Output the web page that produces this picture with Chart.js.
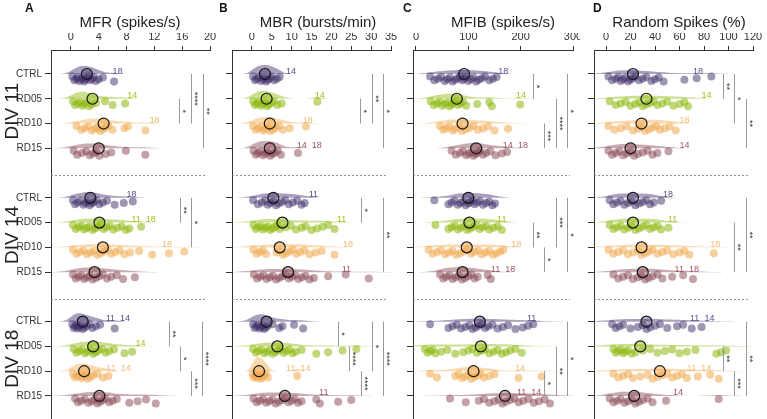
<!DOCTYPE html>
<html>
<head>
<meta charset="utf-8">
<script src="https://cdn.jsdelivr.net/npm/chart.js@4.4.1/dist/chart.umd.min.js"></script>
<style>
  html, body { margin: 0; padding: 0; background: #fff; }
  #wrap { position: relative; width: 767px; height: 419px; overflow: hidden; }
  canvas { position: absolute; top: 0; }
</style>
</head>
<body>
<div id="wrap">
  <canvas id="cA" width="220" height="419" style="left:0px"></canvas>
  <canvas id="cB" width="180" height="419" style="left:220px"></canvas>
  <canvas id="cC" width="185" height="419" style="left:395px"></canvas>
  <canvas id="cD" width="187" height="419" style="left:580px"></canvas>
</div>
<script>
// ---- data ----
const conditions = ['CTRL', 'RD05', 'RD10', 'RD15'];
const divs = ['DIV 11', 'DIV 14', 'DIV 18'];

// MFR (spikes/s), one list per condition
const mfr11 = [
  [0.2, 0.5, 0.8, 1.0, 1.2, 1.5, 1.7, 1.9, 2.1, 2.3, 2.5, 2.8, 3.0, 3.3, 3.6, 4.0, 4.6, 6.2],
  [0.3, 0.6, 1.0, 1.3, 1.6, 1.9, 2.2, 2.6, 3.0, 3.6, 4.9, 6.0, 7.8],
  [0.8, 1.5, 2.0, 2.5, 3.0, 3.5, 3.8, 4.2, 4.6, 5.0, 5.4, 6.0, 7.7, 8.2, 10.7],
  [0.4, 0.9, 1.6, 2.2, 2.7, 3.2, 3.6, 4.1, 5.0, 5.8, 7.9, 10.7]
];
const mfr14 = [
  [0.3, 0.6, 1.0, 1.4, 1.8, 2.1, 2.4, 2.7, 3.0, 3.3, 3.7, 4.1, 4.6, 5.2, 6.3, 7.6, 8.9],
  [0.3, 0.7, 1.1, 1.5, 1.9, 2.3, 2.7, 3.1, 3.5, 3.9, 4.3, 4.7, 5.1, 5.6, 6.1, 6.7, 7.3, 7.9, 8.4, 10.1],
  [0.3, 0.8, 1.3, 1.8, 2.3, 2.8, 3.3, 3.8, 4.3, 4.8, 5.3, 5.8, 6.4, 7.0, 7.7, 8.5, 9.8, 11.7, 14.1, 16.3],
  [0.3, 0.7, 1.1, 1.5, 1.9, 2.3, 2.7, 3.1, 3.6, 4.1, 4.6, 5.2, 5.8, 6.6, 7.5, 9.2]
];
const mfr18 = [
  [0.2, 0.4, 0.6, 0.8, 1.0, 1.2, 1.4, 1.7, 2.0, 2.3, 2.7, 3.1, 3.6, 4.2, 6.3],
  [0.4, 0.8, 1.2, 1.6, 2.0, 2.4, 2.8, 3.2, 3.6, 4.0, 4.5, 5.0, 5.5, 6.2, 7.7, 8.8],
  [0.3, 0.6, 0.9, 1.2, 1.5, 1.8, 2.1, 2.4, 2.8, 3.2, 3.8, 4.6, 5.4],
  [0.6, 1.0, 1.5, 2.0, 2.5, 3.0, 3.4, 3.8, 4.2, 4.6, 5.0, 5.5, 6.0, 6.6, 8.4, 9.6, 10.8, 12.2]
];
const mfrMeans = [[2.3, 3.1, 4.7, 4.0], [2.8, 4.1, 4.6, 3.4], [1.7, 3.2, 1.9, 4.1]];
const mfrTicks = [0, 4, 8, 12, 16, 20];

// MBR (bursts/min)
const mbr11 = [
  [0.3, 0.8, 1.3, 1.8, 2.3, 2.8, 3.2, 3.6, 4.0, 4.5, 5.0, 5.6, 6.3, 7.0],
  [0.3, 0.8, 1.3, 1.8, 2.3, 2.8, 3.3, 3.8, 4.3, 4.9, 5.6, 6.4, 7.5, 16.5],
  [0.3, 1.0, 1.7, 2.3, 2.9, 3.5, 4.1, 4.7, 5.3, 6.0, 6.8, 7.8, 9.5, 13.6],
  [0.4, 1.0, 1.6, 2.2, 2.8, 3.4, 4.0, 4.6, 5.2, 5.8, 6.5, 7.3, 11.6]
];
const mbr14 = [
  [0.3, 1.5, 2.5, 3.3, 4.0, 4.7, 5.4, 6.1, 6.8, 7.6, 8.4, 9.3, 10.3, 11.4, 12.5, 13.3],
  [0.4, 1.0, 1.6, 2.2, 2.8, 3.4, 4.0, 4.6, 5.2, 5.8, 6.4, 7.0, 8.5, 9.8, 11.1, 12.5, 13.5, 15.0, 16.4, 17.8, 19.2, 20.8],
  [0.4, 1.2, 2.0, 2.8, 3.6, 6.2, 7.0, 7.8, 8.6, 9.4, 10.3, 11.2, 12.2, 13.2, 14.5, 16.0, 17.6, 20.8],
  [0.5, 1.3, 2.1, 2.9, 3.7, 4.5, 5.3, 6.1, 6.9, 7.7, 8.5, 9.3, 10.1, 10.9, 11.7, 12.6, 13.5, 14.5, 15.6, 19.2, 23.6, 29.4]
];
const mbr18 = [
  [0.3, 0.7, 1.1, 1.5, 1.9, 2.3, 2.7, 3.1, 3.5, 4.0, 5.2, 6.9, 7.7, 10.6, 12.9],
  [0.3, 1.0, 1.7, 2.4, 3.1, 3.8, 4.5, 5.2, 5.9, 6.6, 7.3, 8.0, 8.7, 9.4, 10.2, 11.0, 12.5, 16.2, 19.2, 22.8, 26.3],
  [0.2, 0.5, 0.8, 1.1, 1.4, 1.7, 2.0, 2.3, 2.6, 3.0, 3.5, 4.0, 11.4],
  [0.4, 1.2, 2.0, 2.8, 3.6, 4.4, 5.2, 6.0, 6.8, 7.6, 8.4, 9.2, 10.0, 10.8, 11.6, 12.5, 16.2, 17.1, 21.7, 25.0]
];
const mbrMeans = [[3.3, 3.7, 4.5, 4.5], [5.4, 7.7, 7.0, 9.1], [3.7, 6.4, 1.8, 8.3]];
const mbrTicks = [0, 5, 10, 15, 20, 25, 30, 35];

// MFIB (spikes/s)
const mfib11 = [
  [27, 35, 42, 48, 55, 60, 65, 70, 75, 80, 84, 88, 92, 96, 100, 105, 110, 115, 120, 126, 132, 140, 147, 154],
  [28, 34, 40, 45, 50, 55, 60, 64, 68, 72, 76, 80, 85, 90, 96, 117, 140, 145, 199],
  [46, 52, 58, 64, 70, 76, 82, 88, 95, 102, 110, 118, 128, 138, 150, 176],
  [68, 76, 84, 90, 96, 101, 106, 110, 114, 118, 122, 128, 134, 142, 152, 164, 174]
];
const mfib14 = [
  [35, 62, 68, 74, 80, 85, 90, 95, 100, 104, 108, 112, 117, 122, 128, 134, 140, 146, 151],
  [37, 62, 68, 74, 80, 86, 92, 98, 104, 110, 116, 122, 128, 134, 140, 148, 156, 164],
  [24, 32, 40, 48, 56, 63, 70, 77, 84, 91, 98, 105, 112, 119, 126, 133, 140, 147, 154, 161, 167],
  [46, 52, 58, 64, 70, 76, 82, 88, 94, 100, 106, 112, 118, 137, 143]
];
const mfib18 = [
  [27, 62, 70, 78, 86, 94, 102, 108, 114, 120, 126, 132, 138, 146, 156, 166, 176, 190, 204, 214, 224],
  [17, 22, 27, 32, 37, 48, 60, 75, 90, 100, 108, 116, 124, 132, 140, 148, 156, 164, 172, 180, 190, 202],
  [27, 40, 75, 82, 88, 94, 100, 106, 112, 118, 124, 130, 140, 150, 196, 240],
  [65, 95, 120, 130, 140, 150, 158, 165, 172, 180, 188, 196, 205, 215, 225, 235, 246, 256]
];
const mfibMeans = [[92, 78, 89, 115], [100, 102, 97, 89], [122, 124, 110, 170]];
const mfibTicks = [0, 100, 200, 300];

// Random spikes (%)
const rnd11 = [
  [2, 5, 8, 10, 12, 14, 16, 18, 20, 22, 24, 27, 30, 33, 37, 40, 43, 47, 64, 74, 86],
  [3, 8, 12, 16, 20, 24, 27, 30, 33, 36, 39, 42, 46, 50, 55, 60, 64, 67],
  [2, 7, 12, 17, 22, 26, 29, 32, 35, 38, 41, 44, 48, 52, 57],
  [2, 5, 8, 11, 14, 17, 20, 23, 26, 30, 34, 38, 42, 51]
];
const rnd14 = [
  [3, 6, 9, 12, 15, 18, 21, 24, 27, 30, 33, 36, 39, 45],
  [3, 6, 9, 12, 15, 18, 21, 24, 27, 30, 33, 36, 39, 42, 45, 51],
  [2, 6, 10, 14, 18, 22, 26, 29, 32, 35, 38, 42, 46, 50, 55, 60, 64, 68, 88],
  [6, 10, 14, 18, 22, 26, 29, 32, 35, 38, 42, 46, 54, 63, 71]
];
const rnd18 = [
  [5, 8, 11, 14, 20, 26, 30, 33, 36, 40, 44, 50, 58, 63, 70, 78],
  [6, 8, 10, 12, 14, 16, 18, 21, 24, 30, 36, 42, 48, 54, 60, 66, 73, 90, 94, 98],
  [6, 10, 14, 18, 22, 28, 34, 38, 42, 46, 50, 54, 58, 62, 66, 75, 85, 92],
  [3, 6, 9, 12, 15, 18, 21, 24, 27, 30, 34, 38, 49, 92]
];
const rndMeans = [[22, 33, 29, 20], [22, 22, 29, 30], [33, 28, 44, 23]];
const rndTicks = [0, 20, 40, 60, 80, 100, 120];

// DIV comparison notes next to each group
const mfrNotes = [['18', '14', '18', ''], ['18', '11  18', '18', ''], ['11  14', '14', '11  14', '']];
const mbrNotes = [['14', '14', '18', '14  18'], ['11', '11', '18', '11'], ['', '', '11  14', '11']];
const mfibNotes = [['18', '14', '', '14  18'], ['', '11', '18', '11  18'], ['11', '', '14', '11  14']];
const rndNotes = [['18', '14', '18', '14'], ['18', '11', '18', '11  18'], ['11  14', '', '11  14', '14']];

// significance: [div, from, to, stars]
const mfrSig = [[0, 1, 2, '*'], [0, 0, 2, '****'], [0, 0, 3, '**'], [1, 0, 1, '**'], [1, 0, 2, '*'],
  [2, 0, 1, '**'], [2, 1, 2, '*'], [2, 2, 3, '***'], [2, 0, 3, '****']];
const mbrSig = [[0, 1, 2, '*'], [0, 0, 2, '**'], [0, 0, 3, '*'], [1, 0, 1, '*'], [1, 0, 3, '**'],
  [2, 0, 1, '*'], [2, 1, 2, '****'], [2, 2, 3, '****'], [2, 0, 2, '*'], [2, 0, 3, '****']];
const mfibSig = [[0, 0, 1, '*'], [0, 2, 3, '***'], [0, 1, 3, '****'], [0, 0, 3, '*'],
  [1, 1, 2, '**'], [1, 2, 3, '*'], [1, 0, 2, '***'], [1, 0, 3, '*'],
  [2, 2, 3, '*'], [2, 1, 3, '**'], [2, 0, 3, '*']];
const rndSig = [[0, 0, 1, '**'], [0, 0, 2, '*'], [0, 1, 3, '**'], [1, 1, 3, '**'], [1, 0, 3, '**'],
  [2, 1, 2, '**'], [2, 2, 3, '***'], [2, 0, 3, '**']];

// ---- annotation layout (x in axis units) ----
const mfrNoteX = [[6.0, 8.1, 11.3, 0], [8.0, 8.7, 13.1, 0], [5.0, 9.3, 5.1, 0]];
const mbrNoteX = [[8.6, 15.8, 12.8, 11.3], [14.3, 21.4, 22.9, 22.6], [0, 0, 8.6, 16.9]];
const mfibNoteX = [[157, 191, 0, 166], [0, 155, 182, 143], [212, 0, 189, 193]];
const rndNoteX = [[71, 78, 60, 60], [46.5, 50.6, 85, 56], [68.6, 0, 66, 54.7]];
const mfrSigX = [15.6, 17.3, 19.0, 15.7, 17.3, 14.1, 15.7, 17.3, 18.9];
const mbrSigX = [27.2, 30.2, 33.0, 27.4, 33.0, 21.6, 24.4, 27.4, 30.2, 33.0];
const mfibSigX = [224, 245, 267, 289, 224, 245, 267, 289, 245, 267, 289];
const rndSigX = [95.5, 104.5, 114.3, 104.5, 114.3, 95.5, 104.5, 114.3];

// ---- styling ----
Chart.defaults.font.family = '"Liberation Sans", Arial, sans-serif';
const FONT = '"Liberation Sans", Arial, sans-serif';
const pointCol = ['rgba(63,45,106,0.5)', 'rgba(141,184,12,0.55)', 'rgba(240,170,80,0.55)', 'rgba(134,68,80,0.5)'];
const violinCol = ['rgba(63,45,106,0.45)', 'rgba(141,184,12,0.45)', 'rgba(240,170,80,0.45)', 'rgba(134,68,80,0.45)'];
const meanCol = ['rgba(63,45,106,0.4)', 'rgba(141,184,12,0.45)', 'rgba(240,170,80,0.5)', 'rgba(134,68,80,0.4)'];
const noteCol = ['#5b4c88', '#a3c41c', '#f2bb72', '#9c5761'];
const rowTicks = [0, 1, 2, 3, 5, 6, 7, 8, 10, 11, 12, 13];
const Y_MIN = -0.969, Y_MAX = 13.93, ROW_PX = 24.77;
const VIOLIN_AREA = 230;

const panels = [
  { id: 'cA', letter: 'A', title: 'MFR (spikes/s)', left: 0, areaLeft: 51, padRight: 10, min: -2.86, max: 20,
    ticks: mfrTicks, groups: [mfr11, mfr14, mfr18], means: mfrMeans, notes: mfrNotes, noteX: mfrNoteX,
    sig: mfrSig, sigX: mfrSigX, titleX: 130, letterX: 25, labels: true },
  { id: 'cB', letter: 'B', title: 'MBR (bursts/min)', left: 220, areaLeft: 12, padRight: 9, min: -5.0, max: 35,
    ticks: mbrTicks, groups: [mbr11, mbr14, mbr18], means: mbrMeans, notes: mbrNotes, noteX: mbrNoteX,
    sig: mbrSig, sigX: mbrSigX, titleX: 318, letterX: 219, labels: false },
  { id: 'cC', letter: 'C', title: 'MFIB (spikes/s)', left: 395, areaLeft: 18, padRight: 7, min: -5.7, max: 300,
    ticks: mfibTicks, groups: [mfib11, mfib14, mfib18], means: mfibMeans, notes: mfibNotes, noteX: mfibNoteX,
    sig: mfibSig, sigX: mfibSigX, titleX: 503, letterX: 403, labels: false },
  { id: 'cD', letter: 'D', title: 'Random Spikes (%)', left: 580, areaLeft: 14, padRight: 14, min: -9.8, max: 120,
    ticks: rndTicks, groups: [rnd11, rnd14, rnd18], means: rndMeans, notes: rndNotes, noteX: rndNoteX,
    sig: rndSig, sigX: rndSigX, titleX: 679, letterX: 593, labels: false }
];

function kde(vals) {
  const n = vals.length;
  const mean = vals.reduce((a, b) => a + b, 0) / n;
  const sd = Math.sqrt(vals.reduce((a, b) => a + (b - mean) ** 2, 0) / (n - 1));
  const s = [...vals].sort((a, b) => a - b);
  const q = p => { const h = (n - 1) * p, i = Math.floor(h); return s[i] + (h - i) * ((s[i + 1] ?? s[i]) - s[i]); };
  const iqr = q(0.75) - q(0.25);
  const bw = 0.9 * Math.min(sd, iqr / 1.34 || sd) * Math.pow(n, -0.2);
  const lo = s[0] - 2.5 * bw, hi = s[n - 1] + 2.5 * bw;
  const out = [];
  for (let k = 0; k <= 60; k++) {
    const x = lo + (hi - lo) * k / 60;
    let d = 0;
    for (const v of vals) { const u = (x - v) / bw; d += Math.exp(-0.5 * u * u); }
    out.push({ x, d: d / (n * bw * Math.sqrt(2 * Math.PI)) });
  }
  return out;
}

function buildDatasets(p, pxPerUnit) {
  const sets = [];
  p.groups.forEach((g, d) => {
    g.forEach((vals, c) => {
      const row = d * 5 + c;
      sets.push({
        type: 'line', showLine: true, order: 3,
        data: kde(vals).map(k => ({ x: k.x, y: row - VIOLIN_AREA * k.d / pxPerUnit / ROW_PX })),
        borderWidth: 0, pointRadius: 0, tension: 0.3,
        backgroundColor: violinCol[c], fill: { value: row }
      });
      sets.push({
        order: 2,
        data: vals.map((v, i) => ({ x: v, y: row + 0.1 + 0.2 * ((i * 7) % 10) / 9 })),
        pointRadius: 4, borderWidth: 0, backgroundColor: pointCol[c]
      });
      sets.push({
        order: 1,
        data: [{ x: p.means[d][c], y: row }],
        pointRadius: 5.5, borderWidth: 1.2, borderColor: '#151515', backgroundColor: meanCol[c]
      });
    });
  });
  return sets;
}

function decor(p) {
  return {
    id: 'decor' + p.letter,
    afterDatasetsDraw(chart) {
      const { ctx, chartArea: a, scales: { x, y } } = chart;
      ctx.save();
      // dashed separators between DIV blocks
      ctx.strokeStyle = '#777';
      ctx.lineWidth = 0.8;
      ctx.setLineDash([2, 2]);
      [4.08, 9.08].forEach(r => {
        const py = Math.round(y.getPixelForValue(r)) + 0.5;
        ctx.beginPath(); ctx.moveTo(a.left, py); ctx.lineTo(a.right - 3, py); ctx.stroke();
      });
      ctx.setLineDash([]);
      // condition names on the first panel
      if (p.labels) {
        ctx.fillStyle = '#333';
        ctx.font = '10px ' + FONT;
        ctx.textAlign = 'right';
        ctx.textBaseline = 'middle';
        rowTicks.forEach(r => ctx.fillText(conditions[r % 5], a.left - 9, y.getPixelForValue(r)));
      }
      // notes
      ctx.font = '9px ' + FONT;
      ctx.textAlign = 'left';
      ctx.textBaseline = 'middle';
      p.notes.forEach((rowNotes, d) => rowNotes.forEach((t, c) => {
        if (!t) return;
        ctx.fillStyle = noteCol[c];
        ctx.fillText(t, x.getPixelForValue(p.noteX[d][c]), y.getPixelForValue(d * 5 + c - 0.12));
      }));
      // significance bars
      p.sig.forEach((s, i) => {
        const [d, from, to, stars] = s;
        const px = Math.round(x.getPixelForValue(p.sigX[i])) + 0.5;
        const y1 = y.getPixelForValue(d * 5 + from), y2 = y.getPixelForValue(d * 5 + to);
        ctx.strokeStyle = '#9a9a9a';
        ctx.lineWidth = 1;
        ctx.beginPath(); ctx.moveTo(px, y1); ctx.lineTo(px, y2); ctx.stroke();
        ctx.save();
        ctx.translate(px + 3, (y1 + y2) / 2);
        ctx.rotate(Math.PI / 2);
        ctx.fillStyle = '#333';
        ctx.font = '9px ' + FONT;
        ctx.textAlign = 'center';
        ctx.textBaseline = 'middle';
        ctx.fillText(stars, 0, 0);
        ctx.restore();
      });
      // panel letter and title
      ctx.fillStyle = '#111';
      ctx.textBaseline = 'middle';
      ctx.textAlign = 'left';
      ctx.font = 'bold 12px ' + FONT;
      ctx.fillText(p.letter, p.letterX - p.left, 9);
      ctx.textAlign = 'center';
      ctx.font = '15px ' + FONT;
      ctx.fillStyle = '#222';
      ctx.fillText(p.title, p.titleX - p.left, 23);
      // DIV labels
      if (p.labels) {
        ctx.font = '19px ' + FONT;
        divs.forEach((t, d) => {
          ctx.save();
          ctx.translate(13, y.getPixelForValue(d * 5 + 1.5));
          ctx.rotate(-Math.PI / 2);
          ctx.textAlign = 'center';
          ctx.textBaseline = 'middle';
          ctx.fillText(t, 0, 0);
          ctx.restore();
        });
      }
      ctx.restore();
    }
  };
}

panels.forEach(p => {
  const canvas = document.getElementById(p.id);
  const areaRight = canvas.width - p.padRight;
  const pxPerUnit = (areaRight - p.areaLeft) / (p.max - p.min);
  new Chart(canvas, {
    type: 'scatter',
    data: { datasets: buildDatasets(p, pxPerUnit) },
    options: {
      responsive: false,
      animation: false,
      events: [],
      layout: { autoPadding: false, padding: { top: 33, right: p.padRight, left: 0, bottom: 0 } },
      plugins: { legend: { display: false }, tooltip: { enabled: false } },
      scales: {
        x: {
          type: 'linear', position: 'top', min: p.min, max: p.max,
          afterBuildTicks: s => { s.ticks = p.ticks.map(v => ({ value: v })); },
          afterFit: s => { s.height = 17; s.paddingLeft = 0; s.paddingRight = 0; },
          grid: { drawOnChartArea: false, tickLength: 4, color: '#333' },
          border: { color: '#333' },
          ticks: { font: { size: 11 }, color: '#333', padding: 2, maxRotation: 0, autoSkip: false }
        },
        y: {
          type: 'linear', min: Y_MIN, max: Y_MAX, reverse: true,
          afterBuildTicks: s => { s.ticks = rowTicks.map(v => ({ value: v })); },
          afterFit: s => { s.width = p.areaLeft; },
          grid: { drawOnChartArea: false, tickLength: 6, color: '#333' },
          border: { color: '#333' },
          ticks: { display: false }
        }
      }
    },
    plugins: [decor(p)]
  });
});
</script>
</body>
</html>
